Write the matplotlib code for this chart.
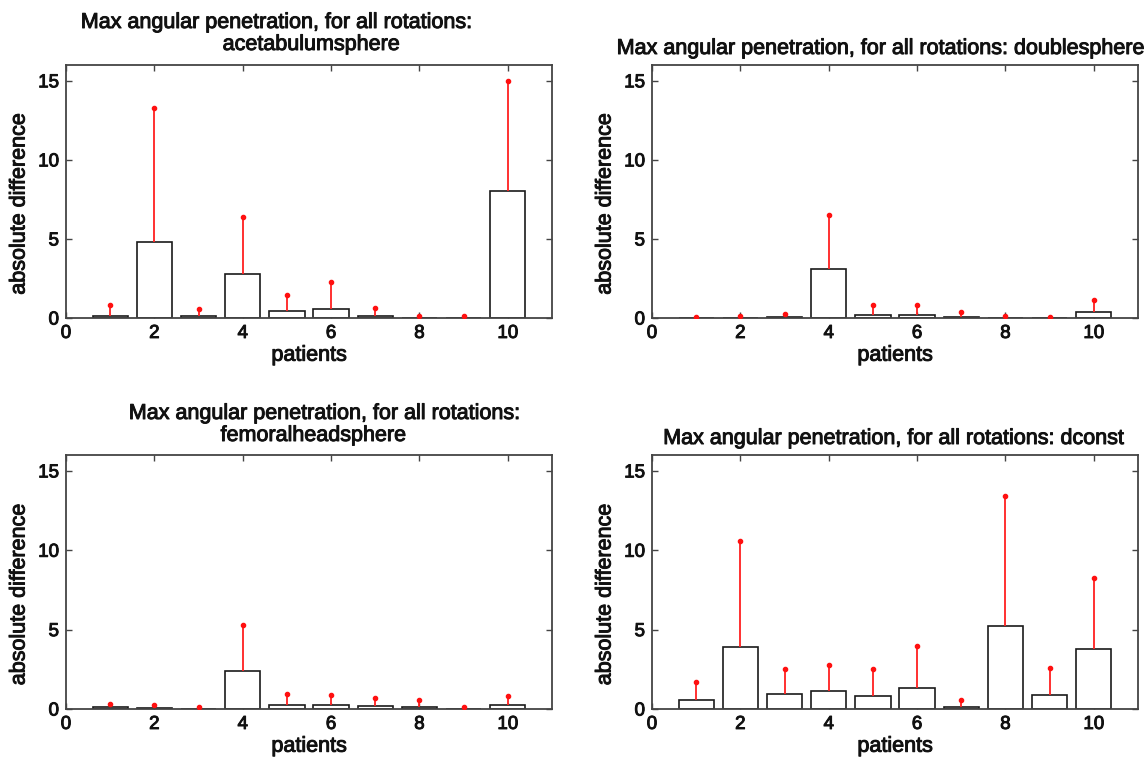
#!/usr/bin/env python3
import matplotlib
matplotlib.use('Agg')
import matplotlib.pyplot as plt
import matplotlib.patheffects as pe

plt.rcParams['font.family'] = ['Liberation Sans', 'DejaVu Sans']

patients = [1, 2, 3, 4, 5, 6, 7, 8, 9, 10]

# mean absolute difference (bar) and max (red dot) per patient
acetabulum_mean = [0.15, 4.8, 0.15, 2.8, 0.45, 0.6, 0.15, 0.02, 0.02, 8.0]
acetabulum_max = [0.8, 13.3, 0.6, 6.4, 1.45, 2.25, 0.65, 0.1, 0.15, 15.0]

double_mean = [0.0, 0.0, 0.05, 3.1, 0.2, 0.2, 0.05, 0.02, 0.0, 0.35]
double_max = [0.05, 0.15, 0.25, 6.5, 0.8, 0.8, 0.35, 0.1, 0.05, 1.15]

femoral_mean = [0.1, 0.05, 0.03, 2.4, 0.25, 0.25, 0.2, 0.15, 0.03, 0.25]
femoral_max = [0.3, 0.25, 0.1, 5.3, 0.95, 0.9, 0.7, 0.55, 0.1, 0.85]

dconst_mean = [0.55, 3.9, 0.95, 1.15, 0.8, 1.35, 0.15, 5.2, 0.9, 3.75]
dconst_max = [1.7, 10.6, 2.5, 2.75, 2.5, 4.0, 0.55, 13.4, 2.6, 8.25]

xticks = [0, 2, 4, 6, 8, 10]
yticks = [0, 5, 10, 15]

W, H = 1148, 762
fig = plt.figure(figsize=(W / 100, H / 100), dpi=100)

# slightly heavier text, the scanned figure looks a bit bolder than regular
heavy = [pe.withStroke(linewidth=0.7, foreground='#111111')]

def px_axes(left, top, right, bottom):
    return fig.add_axes([left / W, 1 - bottom / H, (right - left) / W, (bottom - top) / H])

def draw(ax, mean, top):
    ax.bar(patients, mean, width=0.8, color='white', edgecolor='#1a1a1a', linewidth=1.2, zorder=2)
    ax.vlines(patients, mean, top, color='#ff2020', linewidth=1.3, zorder=3)
    ax.plot(patients, top, '.', color='#ff1010', markersize=6, zorder=4)
    ax.set_xlim(0, 11)
    ax.set_ylim(0, 16)
    ax.set_xticks(xticks)
    ax.set_yticks(yticks)
    ax.tick_params(direction='in', top=True, right=True, length=4, width=1,
                   color='#444444', labelsize=13.5, pad=5, labelcolor='#111111')
    for s in ax.spines.values():
        s.set_color('#444444')
        s.set_linewidth(1.3)
    ax.set_xlabel('patients', fontsize=15.5, labelpad=2, color='#111111', path_effects=heavy)
    ax.set_ylabel('absolute difference', fontsize=15.5, color='#111111', path_effects=heavy)
    ax.yaxis.set_label_coords(-0.075, 0.45)
    for lab in ax.get_xticklabels() + ax.get_yticklabels():
        lab.set_path_effects(heavy)

def title_line(x, y, s):
    fig.text(x / W, 1 - y / H, s, fontsize=15.5, ha='center', va='baseline',
             color='#111111', path_effects=heavy)

ax1 = px_axes(66, 65, 552, 318)
draw(ax1, acetabulum_mean, acetabulum_max)
title_line(276, 28, 'Max angular penetration, for all rotations:')
title_line(311, 50, 'acetabulumsphere')

ax2 = px_axes(652, 65, 1138, 318)
draw(ax2, double_mean, double_max)
title_line(880, 54, 'Max angular penetration, for all rotations: doublesphere')

ax3 = px_axes(66, 455, 552, 709)
draw(ax3, femoral_mean, femoral_max)
title_line(324, 419, 'Max angular penetration, for all rotations:')
title_line(313, 441, 'femoralheadsphere')

ax4 = px_axes(652, 455, 1138, 709)
draw(ax4, dconst_mean, dconst_max)
title_line(893, 444, 'Max angular penetration, for all rotations: dconst')

fig.savefig('out.png', dpi=100)
